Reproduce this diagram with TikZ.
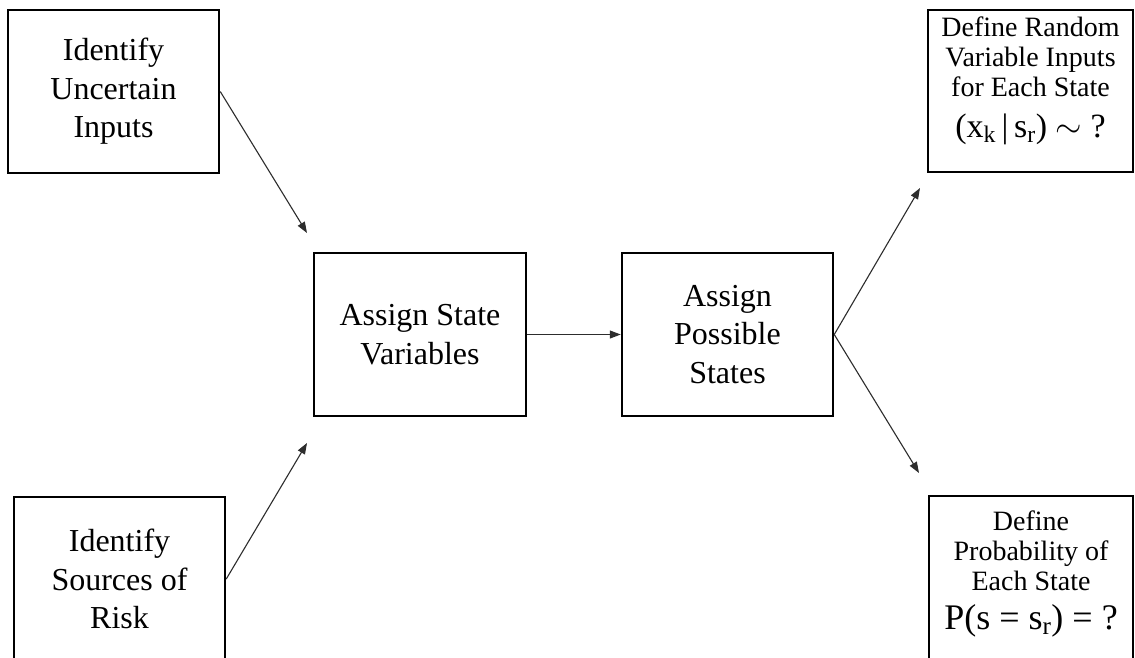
\documentclass[tikz,border=0pt]{standalone}
\usepackage{fix-cm}
\usepackage{fontspec}
\setmainfont{Liberation Serif}
\usetikzlibrary{arrows.meta}
\definecolor{arrowgray}{RGB}{45,45,45}
\begin{document}
\begin{tikzpicture}[x=1pt,y=-1pt,
  box/.style={draw=black, line width=2.5pt, inner sep=0pt, align=center,
    font=\fontsize{32}{38.5}\selectfont},
  rtext/.style={inner sep=0pt, align=center, font=\fontsize{28}{30}\selectfont},
  arr/.style={draw=arrowgray, line width=1.1pt, -{Triangle[length=11pt,width=8pt]}}]
\clip (0,0) rectangle (1135,657);
\fill[white] (0,0) rectangle (1135,657);
\node[box, minimum width=211pt, minimum height=163pt] (tl) at (113.5,91.5) {Identify\\Uncertain\\Inputs};
\node[box, minimum width=211pt, minimum height=164pt] (bl) at (119.5,579) {Identify\\Sources of\\Risk};
\node[box, minimum width=212pt, minimum height=163pt] (sv) at (420,334.5) {Assign State\\Variables};
\node[box, minimum width=211pt, minimum height=163pt] (ps) at (727.5,334.5) {Assign\\Possible\\States};
\node[box, minimum width=205pt, minimum height=162pt] (tr) at (1030.5,91) {};
\node[rtext] (trt) at (1030.5,81) {Define Random\\Variable Inputs\\for Each State\\[11pt]{\fontsize{34}{34}\selectfont (x\textsubscript{k}\,|\,s\textsubscript{r}) $\sim$ ?}};
\node[box, minimum width=204pt, minimum height=164pt] (br) at (1031,578) {};
\node[rtext] (brt) at (1031,574) {Define\\Probability of\\Each State\\[9pt]{\fontsize{36}{36}\selectfont P(s = s\textsubscript{r}) = ?}};
\coordinate (a1) at (307,233);
\coordinate (a2) at (307,443);
\coordinate (a3) at (920,188);
\coordinate (a4) at (919,473);
\draw[arr] (tl.east) -- (a1);
\draw[arr] (bl.east) -- (a2);
\draw[arr] (sv.east) -- (ps.west);
\draw[arr] (ps.east) -- (a3);
\draw[arr] (ps.east) -- (a4);
\end{tikzpicture}
\end{document}
